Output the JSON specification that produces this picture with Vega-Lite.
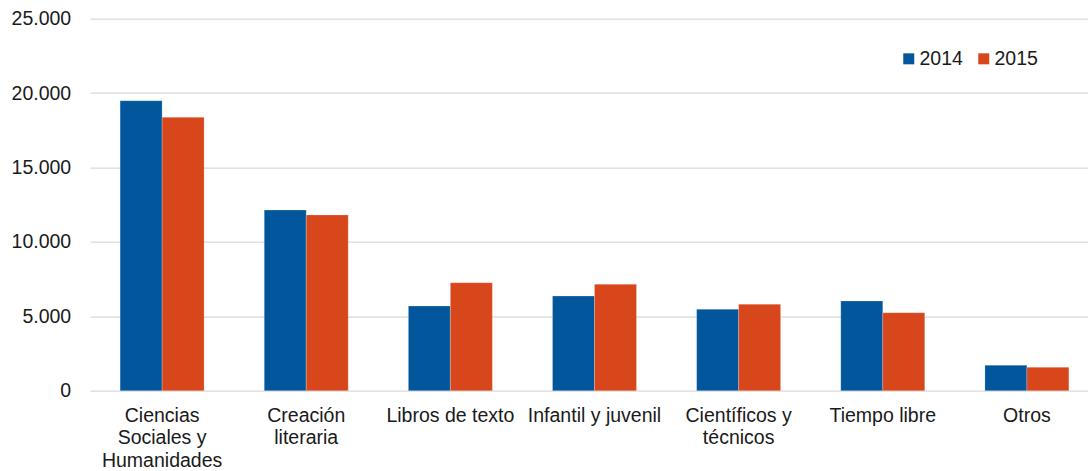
{
  "$schema": "https://vega.github.io/schema/vega-lite/v6.json",
  "autosize": {"type": "none"},
  "padding": {"left": 90, "top": 18.7, "right": 0, "bottom": 80.3},
  "width": 998,
  "height": 372,
  "background": "white",
  "config": {
    "view": {"stroke": null},
    "font": "Liberation Sans",
    "axis": {"labelFont": "Liberation Sans", "labelColor": "#1a1a1a", "labelFontSize": 19.5}
  },
  "data": {
    "values": [
      {"categoria": "Ciencias Sociales y Humanidades", "año": "2014", "valor": 19490},
      {"categoria": "Ciencias Sociales y Humanidades", "año": "2015", "valor": 18370},
      {"categoria": "Creación literaria", "año": "2014", "valor": 12140},
      {"categoria": "Creación literaria", "año": "2015", "valor": 11810},
      {"categoria": "Libros de texto", "año": "2014", "valor": 5690},
      {"categoria": "Libros de texto", "año": "2015", "valor": 7260},
      {"categoria": "Infantil y juvenil", "año": "2014", "valor": 6360},
      {"categoria": "Infantil y juvenil", "año": "2015", "valor": 7150},
      {"categoria": "Científicos y técnicos", "año": "2014", "valor": 5470},
      {"categoria": "Científicos y técnicos", "año": "2015", "valor": 5810},
      {"categoria": "Tiempo libre", "año": "2014", "valor": 6030},
      {"categoria": "Tiempo libre", "año": "2015", "valor": 5240},
      {"categoria": "Otros", "año": "2014", "valor": 1710},
      {"categoria": "Otros", "año": "2015", "valor": 1570}
    ]
  },
  "mark": {"type": "bar", "stroke": "#ffffff", "strokeOpacity": 0.35, "strokeWidth": 0.6},
  "encoding": {
    "x": {
      "field": "categoria",
      "type": "nominal",
      "sort": null,
      "scale": {"range": [0, 1009], "paddingInner": 0.4175, "paddingOuter": 0.209},
      "axis": {
        "title": null,
        "labelAngle": 0,
        "ticks": false,
        "domain": false,
        "labelPadding": 15.5,
        "labelBaseline": "top",
        "labelLineHeight": 22.5,
        "labelLimit": 0,
        "labelExpr": "datum.value == 'Ciencias Sociales y Humanidades' ? ['Ciencias', 'Sociales y', 'Humanidades'] : datum.value == 'Creación literaria' ? ['Creación', 'literaria'] : datum.value == 'Científicos y técnicos' ? ['Científicos y', 'técnicos'] : datum.value"
      }
    },
    "xOffset": {"field": "año", "type": "nominal"},
    "y": {
      "field": "valor",
      "type": "quantitative",
      "scale": {"domain": [0, 25000], "nice": false},
      "axis": {
        "title": null,
        "values": [0, 5000, 10000, 15000, 20000, 25000],
        "labelExpr": "replace(format(datum.value, ',d'), ',', '.')",
        "ticks": false,
        "domain": false,
        "labelPadding": 19.3,
        "grid": true,
        "gridColor": "#d9d9d9",
        "gridWidth": 1.2
      }
    },
    "color": {
      "field": "año",
      "type": "nominal",
      "scale": {"domain": ["2014", "2015"], "range": ["#02579C", "#D8461C"]},
      "legend": {
        "title": null,
        "orient": "none",
        "legendX": 809,
        "legendY": 30,
        "direction": "horizontal",
        "padding": 0,
        "symbolType": "square",
        "symbolSize": 121,
        "symbolStrokeWidth": 0,
        "labelFontSize": 19.5,
        "labelFont": "Liberation Sans",
        "labelColor": "#1a1a1a",
        "labelOffset": 1,
        "columnPadding": 11
      }
    }
  }
}
